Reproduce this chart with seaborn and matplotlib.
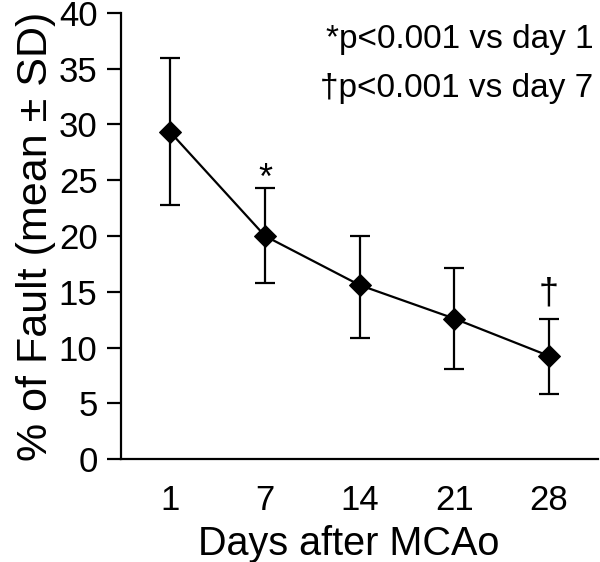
import numpy as np
import pandas as pd
import seaborn as sns
import matplotlib
matplotlib.use("Agg")
import matplotlib.pyplot as plt

# values
days = ["1", "7", "14", "21", "28"]
mean_fault = [29.3, 20.0, 15.6, 12.6, 9.25]
upper_sd = [36.0, 24.3, 20.0, 17.1, 12.6]
lower_sd = [22.8, 15.8, 10.85, 8.1, 5.85]
marks = ["", "*", "", "", "\u2020"]
notes = ["*p<0.001 vs day 1", "\u2020p<0.001 vs day 7"]

sns.set_style("ticks")
plt.rcParams["font.family"] = ["Liberation Sans", "DejaVu Sans"]
plt.rcParams.update({"text.color": "black", "axes.labelcolor": "black",
                     "xtick.color": "black", "ytick.color": "black"})

df = pd.DataFrame({"pos": np.arange(len(days)), "fault": mean_fault})

fig = plt.figure(figsize=(6, 5.62), dpi=100)
ax = fig.add_axes([0.202, 0.183, 0.795, 0.794])

yerr = [np.array(mean_fault) - np.array(lower_sd), np.array(upper_sd) - np.array(mean_fault)]
ax.errorbar(df.pos, df.fault, yerr=yerr, fmt="none", ecolor="black",
            elinewidth=1.6, capsize=7.5, capthick=1.6, zorder=2)
sns.lineplot(data=df, x="pos", y="fault", marker="D", markersize=11,
             color="black", linewidth=1.6, markeredgecolor="black", ax=ax, zorder=3)

for i, m in enumerate(marks):
    if m == "*":
        ax.text(i, upper_sd[i] - 0.8, m, ha="center", va="bottom", fontsize=26)
    elif m:
        ax.text(i, upper_sd[i] + 2.2, m, ha="center", va="center", fontsize=26)

ax.text(0.99, 0.975, notes[0], transform=ax.transAxes, ha="right", va="top", fontsize=24)
ax.text(0.99, 0.866, notes[1], transform=ax.transAxes, ha="right", va="top", fontsize=24)

ax.set_xlim(-0.52, 4.52)
ax.set_ylim(0, 40)
ax.set_yticks(range(0, 41, 5))
ax.set_xticks(df.pos)
ax.set_xticklabels(days)
ax.tick_params(axis="y", length=10, width=1.6, labelsize=25, pad=7, color="black")
ax.tick_params(axis="x", length=0, labelsize=25, pad=18)
ax.set_xlabel("Days after MCAo", fontsize=28.5)
ax.set_ylabel("% of Fault (mean \u00b1 SD)", fontsize=31, labelpad=2)
ax.xaxis.set_label_coords(0.476, -0.148)
for s in ["left", "bottom"]:
    ax.spines[s].set_linewidth(1.6)
    ax.spines[s].set_color("black")
sns.despine(ax=ax)

fig.savefig("out.png", dpi=100)
